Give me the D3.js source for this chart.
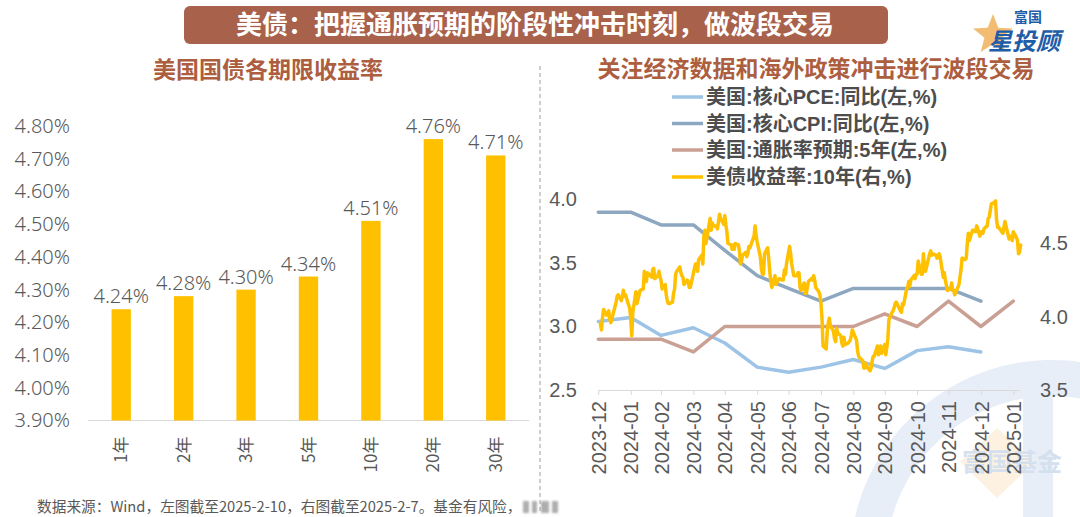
<!DOCTYPE html>
<html><head><meta charset="utf-8">
<script src="https://cdn.jsdelivr.net/npm/d3@7"></script>
<style>
body{margin:0;background:#fff;}
svg{display:block;font-family:"Noto Sans","Noto Sans CJK SC",sans-serif;}
</style>
</head><body>
<svg id="c" width="1080" height="517"></svg>
<script>
// ---------------- DATA ----------------
const mainTitle = "美债：把握通胀预期的阶段性冲击时刻，做波段交易";
const leftTitle = "美国国债各期限收益率";
const rightTitle = "关注经济数据和海外政策冲击进行波段交易";
const footnote = "数据来源：Wind，左图截至2025-2-10，右图截至2025-2-7。基金有风险，";

const barCategories = ["1年","2年","3年","5年","10年","20年","30年"];
const barValues = [4.24,4.28,4.30,4.34,4.51,4.76,4.71];
const barTicks = [3.9,4.0,4.1,4.2,4.3,4.4,4.5,4.6,4.7,4.8];

const months = ["2023-12","2024-01","2024-02","2024-03","2024-04","2024-05","2024-06","2024-07","2024-08","2024-09","2024-10","2024-11","2024-12","2025-01"];
const corePCE = [3.04,3.07,2.93,2.99,2.87,2.68,2.64,2.68,2.74,2.67,2.81,2.84,2.80];
const coreCPI = [3.9,3.9,3.8,3.8,3.6,3.4,3.3,3.2,3.3,3.3,3.3,3.3,3.2];
const inflExp5y = [2.9,2.9,2.9,2.8,3.0,3.0,3.0,3.0,3.0,3.1,3.0,3.2,3.0,3.2];
const leftTicks = [2.5,3.0,3.5,4.0];
const rightTicks = [3.5,4.0,4.5];

const seriesNames = ["美国:核心PCE:同比(左,%)","美国:核心CPI:同比(左,%)","美国:通胀率预期:5年(左,%)","美债收益率:10年(右,%)"];
const seriesColors = ["#9DC3E6","#8DA7C0","#C9A093","#FFC000"];

const ust10y = [
["2024-01-02",3.95],["2024-01-03",3.91],["2024-01-04",3.99],["2024-01-05",4.05],["2024-01-08",4.01],["2024-01-09",4.02],["2024-01-10",4.04],["2024-01-11",3.98],["2024-01-12",3.96],["2024-01-16",4.07],["2024-01-17",4.10],["2024-01-18",4.14],["2024-01-19",4.15],["2024-01-22",4.11],["2024-01-23",4.14],["2024-01-24",4.18],["2024-01-25",4.14],["2024-01-26",4.15],["2024-01-29",4.08],["2024-01-30",4.06],["2024-01-31",3.99],
["2024-02-01",3.87],["2024-02-02",4.03],["2024-02-05",4.17],["2024-02-06",4.09],["2024-02-07",4.12],["2024-02-08",4.15],["2024-02-09",4.18],["2024-02-12",4.19],["2024-02-13",4.31],["2024-02-14",4.27],["2024-02-15",4.24],["2024-02-16",4.30],["2024-02-20",4.27],["2024-02-21",4.32],["2024-02-22",4.33],["2024-02-23",4.26],["2024-02-26",4.28],["2024-02-27",4.31],["2024-02-28",4.27],["2024-02-29",4.25],
["2024-03-01",4.19],["2024-03-04",4.22],["2024-03-05",4.15],["2024-03-06",4.11],["2024-03-07",4.09],["2024-03-08",4.09],["2024-03-11",4.10],["2024-03-12",4.16],["2024-03-13",4.19],["2024-03-14",4.29],["2024-03-15",4.31],["2024-03-18",4.34],["2024-03-19",4.30],["2024-03-20",4.28],["2024-03-21",4.27],["2024-03-22",4.22],["2024-03-25",4.25],["2024-03-26",4.24],["2024-03-27",4.20],["2024-03-28",4.20],
["2024-04-01",4.33],["2024-04-02",4.36],["2024-04-03",4.36],["2024-04-04",4.31],["2024-04-05",4.39],["2024-04-08",4.42],["2024-04-09",4.36],["2024-04-10",4.55],["2024-04-11",4.59],["2024-04-12",4.50],["2024-04-15",4.63],["2024-04-16",4.67],["2024-04-17",4.59],["2024-04-18",4.64],["2024-04-19",4.62],["2024-04-22",4.62],["2024-04-23",4.60],["2024-04-24",4.65],["2024-04-25",4.70],["2024-04-26",4.67],["2024-04-29",4.63],["2024-04-30",4.69],
["2024-05-01",4.63],["2024-05-02",4.58],["2024-05-03",4.50],["2024-05-06",4.49],["2024-05-07",4.46],["2024-05-08",4.49],["2024-05-09",4.46],["2024-05-10",4.50],["2024-05-13",4.49],["2024-05-14",4.45],["2024-05-15",4.36],["2024-05-16",4.38],["2024-05-17",4.42],["2024-05-20",4.44],["2024-05-21",4.41],["2024-05-22",4.43],["2024-05-23",4.48],["2024-05-24",4.47],["2024-05-28",4.55],["2024-05-29",4.62],["2024-05-30",4.55],["2024-05-31",4.51],
["2024-06-03",4.41],["2024-06-04",4.33],["2024-06-05",4.29],["2024-06-06",4.29],["2024-06-07",4.43],["2024-06-10",4.47],["2024-06-11",4.40],["2024-06-12",4.31],["2024-06-13",4.24],["2024-06-14",4.20],["2024-06-17",4.28],["2024-06-18",4.22],["2024-06-20",4.25],["2024-06-21",4.26],["2024-06-24",4.25],["2024-06-25",4.25],["2024-06-26",4.32],["2024-06-27",4.29],["2024-06-28",4.36],
["2024-07-01",4.48],["2024-07-02",4.43],["2024-07-03",4.36],["2024-07-05",4.28],["2024-07-08",4.28],["2024-07-09",4.30],["2024-07-10",4.30],["2024-07-11",4.20],["2024-07-12",4.18],["2024-07-15",4.23],["2024-07-16",4.16],["2024-07-17",4.16],["2024-07-18",4.20],["2024-07-19",4.24],["2024-07-22",4.26],["2024-07-23",4.25],["2024-07-24",4.28],["2024-07-25",4.25],["2024-07-26",4.20],["2024-07-29",4.17],["2024-07-30",4.15],["2024-07-31",4.09],
["2024-08-01",3.99],["2024-08-02",3.80],["2024-08-05",3.78],["2024-08-06",3.90],["2024-08-07",3.96],["2024-08-08",3.99],["2024-08-09",3.94],["2024-08-12",3.90],["2024-08-13",3.85],["2024-08-14",3.83],["2024-08-15",3.92],["2024-08-16",3.89],["2024-08-19",3.87],["2024-08-20",3.82],["2024-08-21",3.80],["2024-08-22",3.86],["2024-08-23",3.81],["2024-08-26",3.82],["2024-08-27",3.83],["2024-08-28",3.84],["2024-08-29",3.87],["2024-08-30",3.91],
["2024-09-03",3.84],["2024-09-04",3.77],["2024-09-05",3.73],["2024-09-06",3.72],["2024-09-09",3.70],["2024-09-10",3.65],["2024-09-11",3.65],["2024-09-12",3.68],["2024-09-13",3.66],["2024-09-16",3.63],["2024-09-17",3.65],["2024-09-18",3.70],["2024-09-19",3.73],["2024-09-20",3.73],["2024-09-23",3.80],["2024-09-24",3.74],["2024-09-25",3.79],["2024-09-26",3.80],["2024-09-27",3.75],["2024-09-30",3.81],
["2024-10-01",3.74],["2024-10-02",3.79],["2024-10-03",3.85],["2024-10-04",3.98],["2024-10-07",4.03],["2024-10-08",4.04],["2024-10-09",4.06],["2024-10-10",4.09],["2024-10-11",4.10],["2024-10-15",4.04],["2024-10-16",4.03],["2024-10-17",4.09],["2024-10-18",4.08],["2024-10-21",4.19],["2024-10-22",4.20],["2024-10-23",4.24],["2024-10-24",4.21],["2024-10-25",4.25],["2024-10-28",4.28],["2024-10-29",4.26],["2024-10-30",4.29],["2024-10-31",4.29],
["2024-11-01",4.38],["2024-11-04",4.29],["2024-11-05",4.29],["2024-11-06",4.43],["2024-11-07",4.34],["2024-11-08",4.31],["2024-11-12",4.43],["2024-11-13",4.45],["2024-11-14",4.42],["2024-11-15",4.43],["2024-11-18",4.42],["2024-11-19",4.40],["2024-11-20",4.41],["2024-11-21",4.43],["2024-11-22",4.41],["2024-11-25",4.27],["2024-11-26",4.30],["2024-11-27",4.25],["2024-11-29",4.18],
["2024-12-02",4.19],["2024-12-03",4.23],["2024-12-04",4.18],["2024-12-05",4.18],["2024-12-06",4.15],["2024-12-09",4.20],["2024-12-10",4.22],["2024-12-11",4.27],["2024-12-12",4.32],["2024-12-13",4.40],["2024-12-16",4.39],["2024-12-17",4.40],["2024-12-18",4.50],["2024-12-19",4.57],["2024-12-20",4.52],["2024-12-23",4.59],["2024-12-24",4.59],["2024-12-26",4.58],["2024-12-27",4.62],["2024-12-30",4.55],["2024-12-31",4.58],
["2025-01-02",4.57],["2025-01-03",4.60],["2025-01-06",4.62],["2025-01-07",4.67],["2025-01-08",4.68],["2025-01-10",4.77],["2025-01-13",4.78],["2025-01-14",4.79],["2025-01-15",4.66],["2025-01-16",4.61],["2025-01-17",4.61],["2025-01-21",4.57],["2025-01-22",4.61],["2025-01-23",4.65],["2025-01-24",4.62],["2025-01-27",4.53],["2025-01-28",4.55],["2025-01-29",4.55],["2025-01-30",4.52],["2025-01-31",4.58],
["2025-02-03",4.54],["2025-02-04",4.52],["2025-02-05",4.43],["2025-02-06",4.44],["2025-02-07",4.49]
];

// ---------------- DRAW ----------------
const svg = d3.select("#c");
const brown = "#AC5E3F";
const textGray = "#595959";
const cjk = '"Noto Sans CJK SC","Noto Sans",sans-serif';
const cjkTight = '"Liberation Sans","Noto Sans CJK SC",sans-serif';

// watermark (right bottom)
const wm = svg.append("g");
wm.append("path")
  .attr("transform","translate(1052,562)")
  .attr("d", d3.arc().innerRadius(166).outerRadius(202).startAngle(-Math.PI/2).endAngle(Math.PI*0.06)())
  .attr("fill","#E7EEF7");
wm.append("rect").attr("x",1023).attr("y",396).attr("width",30).attr("height",121).attr("fill","#E7EEF7");
wm.append("path").attr("d","M997,428 L1035,462 L997,498 L960,462 Z").attr("fill","#FDF2E1");
wm.append("text").attr("x",1012).attr("y",471).attr("text-anchor","middle")
  .style("font-family",cjkTight).style("font-weight","bold").style("font-size","25px")
  .attr("fill","#D5E0EE").text("富国基金");

// banner
svg.append("rect").attr("x",184).attr("y",6).attr("width",704).attr("height",38).attr("rx",6)
  .attr("fill","#A8614A");
svg.append("text").attr("x",535).attr("y",25).attr("dy","0.36em").attr("text-anchor","middle")
  .style("font-family",cjkTight).style("font-weight","bold").style("font-size","26px")
  .attr("fill","#fff").text(mainTitle);

// logo
const logo = svg.append("g");
const star = d3.range(10).map(i=>{const r = i%2===0?21:9; const a = -Math.PI/2 + i*Math.PI/5; return [993+r*Math.cos(a), 35+r*Math.sin(a)];});
logo.append("path").attr("d","M"+star.map(p=>p.join(",")).join("L")+"Z").attr("fill","#F0B25A").attr("opacity",0.85);
logo.append("text").attr("x",1014).attr("y",22).style("font-family",cjkTight).style("font-weight","bold")
  .style("font-size","14px").attr("fill","#1F5DA8").text("富国");
logo.append("text").attr("x",988).attr("y",50).style("font-family",cjkTight).style("font-weight","bold")
  .style("font-style","italic").style("font-size","24px").attr("fill","#1F5DA8").text("星投顾");

// subtitles
svg.append("text").attr("x",268).attr("y",70).attr("dy","0.36em").attr("text-anchor","middle")
  .style("font-family",cjkTight).style("font-weight","bold").style("font-size","23px").attr("fill",brown).text(leftTitle);
svg.append("text").attr("x",816).attr("y",69).attr("dy","0.36em").attr("text-anchor","middle")
  .style("font-family",cjkTight).style("font-weight","bold").style("font-size","23px").attr("fill",brown).text(rightTitle);

// divider
svg.append("line").attr("x1",540).attr("x2",540).attr("y1",66).attr("y2",512)
  .attr("stroke","#BFBFBF").attr("stroke-width",1.5).attr("stroke-dasharray","4,3");

// ---------- Left bar chart ----------
const xb = d3.scaleBand().domain(barCategories).range([90,527]).paddingInner(0.69).paddingOuter(0.345);
const yb = d3.scaleLinear().domain([3.9,4.8]).range([420.5,126]);

const gbAxisY = svg.append("g").attr("transform","translate(72,0)")
  .call(d3.axisLeft(yb).tickValues(barTicks).tickSize(0).tickPadding(2).tickFormat(d=>d3.format(".2f")(d)+"%"));
gbAxisY.select(".domain").remove();
gbAxisY.selectAll("text").attr("fill",textGray).style("font-size","20px").style("font-weight","300")
  .style("font-family",'"Noto Sans",sans-serif');

svg.append("line").attr("x1",88).attr("x2",529).attr("y1",420.5).attr("y2",420.5).attr("stroke","#D9D9D9").attr("stroke-width",1.2);

svg.append("g").selectAll("rect").data(barValues).join("rect")
  .attr("x",(d,i)=>xb(barCategories[i])).attr("width",xb.bandwidth())
  .attr("y",d=>yb(d)).attr("height",d=>yb(3.9)-yb(d)).attr("fill","#FFC000");

svg.append("g").selectAll("text").data(barValues).join("text")
  .attr("x",(d,i)=>xb(barCategories[i])+xb.bandwidth()/2).attr("y",d=>yb(d)-6)
  .attr("text-anchor","middle").attr("fill",textGray).style("font-size","20px").style("font-weight","300")
  .text(d=>d3.format(".2f")(d)+"%");

const gbAxisX = svg.append("g").attr("transform","translate(0,420.5)")
  .call(d3.axisBottom(xb).tickSize(0).tickPadding(0));
gbAxisX.select(".domain").remove();
gbAxisX.selectAll("text").attr("transform","rotate(-90)").attr("x",-16).attr("y",0).attr("dy","0.36em")
  .attr("text-anchor","end").attr("fill",textGray).style("font-size","17px").style("font-family",cjk);

// ---------- Right line chart ----------
const parse = d3.timeParse("%Y-%m-%d");
const monthEnd = m => { const [y,mo] = m.split("-").map(Number); return new Date(y, mo, 0); };
const monthDates = months.map(monthEnd);
const xr = d3.scaleTime().domain([monthDates[0], monthDates[monthDates.length-1]]).range([598.3,1013.3]);
const yl = d3.scaleLinear().domain([2.5,4.0]).range([390,199.5]);
const yr = d3.scaleLinear().domain([3.5,4.8]).range([390,199.5]);

// axes
const gL = svg.append("g").attr("transform","translate(577,0)")
  .call(d3.axisLeft(yl).tickValues(leftTicks).tickSize(0).tickPadding(0).tickFormat(d3.format(".1f")));
gL.select(".domain").remove();
gL.selectAll("text").attr("fill",textGray).style("font-size","20px").style("font-weight","300");

const gR = svg.append("g").attr("transform","translate(1040,0)")
  .call(d3.axisRight(yr).tickValues(rightTicks).tickSize(0).tickPadding(0).tickFormat(d3.format(".1f")));
gR.select(".domain").remove();
gR.selectAll("text").attr("fill",textGray).style("font-size","20px").style("font-weight","300");

const gX = svg.append("g").attr("transform","translate(0,390)")
  .call(d3.axisBottom(xr).tickValues(monthDates).tickSize(5).tickSizeOuter(0).tickFormat((d,i)=>months[i]));
gX.select(".domain").attr("stroke","#D9D9D9").attr("stroke-width",1.2).attr("d","M598.3,0.5H1020");
gX.selectAll(".tick line").attr("stroke","#D9D9D9");
gX.selectAll("text").attr("transform","rotate(-90)").attr("x",-11).attr("y",0).attr("dy","0.36em")
  .attr("text-anchor","end").attr("fill",textGray).style("font-size","20px").style("font-weight","300");

// lines
const lineL = d3.line().x(d=>xr(d[0])).y(d=>yl(d[1]));
const lineR = d3.line().x(d=>xr(d[0])).y(d=>yr(d[1]));
const monthly = [corePCE, coreCPI, inflExp5y];
monthly.forEach((vals,k)=>{
  svg.append("path").datum(vals.map((v,i)=>[monthDates[i],v]))
    .attr("d",lineL).attr("fill","none").attr("stroke",seriesColors[k]).attr("stroke-width",3.5)
    .attr("stroke-linejoin","round").attr("stroke-linecap","round");
});
svg.append("path").datum(ust10y.map(d=>[parse(d[0]),d[1]]))
  .attr("d",lineR).attr("fill","none").attr("stroke",seriesColors[3]).attr("stroke-width",3.5)
  .attr("stroke-linejoin","round").attr("stroke-linecap","round");

// legend
const legY = [97,123.5,150,177];
const leg = svg.append("g").selectAll("g").data(seriesNames).join("g")
  .attr("transform",(d,i)=>`translate(0,${legY[i]})`);
leg.append("line").attr("x1",672).attr("x2",703).attr("y1",0).attr("y2",0)
  .attr("stroke",(d,i)=>seriesColors[i]).attr("stroke-width",3.5);
leg.append("text").attr("x",706).attr("y",0).attr("dy","0.36em")
  .style("font-family",cjkTight).style("font-weight","bold").style("font-size","20px")
  .attr("fill","#4D4D4D").text(d=>d);

// footnote
svg.append("text").attr("x",37).attr("y",507).attr("dy","0.36em")
  .style("font-family",cjk).style("font-size","14.7px").attr("fill",textGray).text(footnote);
const defs = svg.append("defs");
defs.append("filter").attr("id","blur").append("feGaussianBlur").attr("stdDeviation",1.2);
svg.append("g").attr("filter","url(#blur)").selectAll("rect").data([[523,6],[532,5],[541,8],[552,6]]).join("rect")
  .attr("x",d=>d[0]).attr("y",501).attr("width",d=>d[1]).attr("height",12).attr("fill","#9a9a9a").attr("opacity",0.8);
</script>
</body></html>
